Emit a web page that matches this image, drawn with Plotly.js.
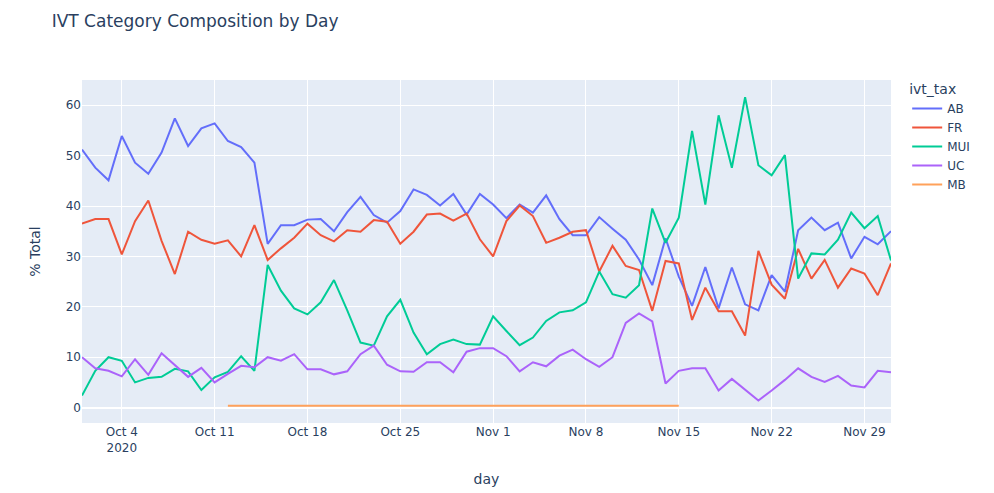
<!DOCTYPE html>
<html>
<head>
<meta charset="utf-8">
<script src="https://cdn.plot.ly/plotly-3.0.1.min.js"></script>
<style>html,body{margin:0;padding:0;background:#fff;}</style>
</head>
<body>
<div id="chart" style="width:994px;height:493px;"></div>
<script>
const days = [
  '2020-10-01','2020-10-02','2020-10-03','2020-10-04','2020-10-05','2020-10-06','2020-10-07','2020-10-08','2020-10-09','2020-10-10',
  '2020-10-11','2020-10-12','2020-10-13','2020-10-14','2020-10-15','2020-10-16','2020-10-17','2020-10-18','2020-10-19','2020-10-20',
  '2020-10-21','2020-10-22','2020-10-23','2020-10-24','2020-10-25','2020-10-26','2020-10-27','2020-10-28','2020-10-29','2020-10-30',
  '2020-10-31','2020-11-01','2020-11-02','2020-11-03','2020-11-04','2020-11-05','2020-11-06','2020-11-07','2020-11-08','2020-11-09',
  '2020-11-10','2020-11-11','2020-11-12','2020-11-13','2020-11-14','2020-11-15','2020-11-16','2020-11-17','2020-11-18','2020-11-19',
  '2020-11-20','2020-11-21','2020-11-22','2020-11-23','2020-11-24','2020-11-25','2020-11-26','2020-11-27','2020-11-28','2020-11-29',
  '2020-11-30','2020-12-01'
];

const AB = [51.2,47.6,45.1,53.9,48.6,46.4,50.6,57.4,51.9,55.4,
            56.4,52.9,51.7,48.6,32.5,36.2,36.2,37.3,37.4,35.0,
            38.8,41.8,38.2,36.7,39.0,43.3,42.2,40.1,42.4,38.3,
            42.4,40.3,37.6,40.3,38.7,42.1,37.4,34.2,34.2,37.8,
            35.5,33.3,29.4,24.3,33.6,26.0,20.2,27.9,19.7,27.8,
            20.5,19.3,26.3,23.0,35.2,37.7,35.2,36.7,29.6,33.9,
            32.4,35.0];

const FR = [36.5,37.4,37.4,30.4,37.0,41.1,33.1,26.5,34.9,33.3,
            32.5,33.2,30.0,36.2,29.3,31.6,33.7,36.5,34.2,33.0,
            35.2,34.9,37.2,36.9,32.5,34.9,38.3,38.5,37.1,38.5,
            33.4,30.0,37.0,40.1,38.0,32.7,33.7,34.9,35.2,27.0,
            32.1,28.1,27.3,19.2,29.1,28.6,17.4,23.8,19.1,19.1,
            14.3,31.1,24.4,21.6,31.5,25.6,29.3,23.8,27.6,26.6,
            22.3,28.6];

const MUI = [2.4,7.3,10.0,9.3,5.0,5.9,6.1,7.7,7.2,3.5,
             6.0,7.1,10.2,7.3,28.3,23.2,19.7,18.5,20.9,25.3,
             19.3,12.9,12.3,18.1,21.4,14.9,10.6,12.6,13.5,12.6,
             12.5,18.1,15.2,12.4,13.9,17.2,18.9,19.3,20.9,27.0,
             22.5,21.8,24.3,39.5,32.7,37.7,54.9,40.3,58.0,47.6,
             61.6,48.1,46.1,50.1,25.6,30.6,30.4,33.3,38.7,35.6,
             38.0,29.2];

const UC = [10.0,7.8,7.3,6.2,9.6,6.5,10.8,8.5,6.1,7.9,
            5.0,6.7,8.3,8.0,10.0,9.3,10.6,7.6,7.6,6.6,
            7.2,10.6,12.3,8.5,7.2,7.1,9.0,9.0,7.0,11.1,
            11.8,11.8,10.2,7.2,9.0,8.2,10.3,11.5,9.6,8.1,
            10.0,16.8,18.7,17.1,4.8,7.3,7.8,7.8,3.4,5.7,
            3.6,1.4,3.4,5.5,7.8,6.1,5.1,6.3,4.4,4.0,
            7.3,7.0];

const MB = [null,null,null,null,null,null,null,null,null,null,
            null,0.35,0.35,0.35,0.35,0.35,0.35,0.35,0.35,0.35,
            0.35,0.35,0.35,0.35,0.35,0.35,0.35,0.35,0.35,0.35,
            0.35,0.35,0.35,0.35,0.35,0.35,0.35,0.35,0.35,0.35,
            0.35,0.35,0.35,0.35,0.35,0.35,null,null,null,null,
            null,null,null,null,null,null,null,null,null,null,
            null,null];

const seriesNames = ['AB','FR','MUI','UC','MB'];
const seriesValues = [AB, FR, MUI, UC, MB];
const seriesColors = ['#636efa','#EF553B','#00cc96','#ab63fa','#FFA15A'];

const traces = seriesNames.map((name, k) => ({
  type: 'scatter',
  mode: 'lines',
  name: name,
  x: days,
  y: seriesValues[k],
  line: {color: seriesColors[k], width: 2},
  connectgaps: false
}));

const layout = {
  width: 994,
  height: 493,
  margin: {l: 82, r: 103, t: 80, b: 70},
  paper_bgcolor: 'white',
  plot_bgcolor: '#E5ECF6',
  font: {family: 'Verdana, "DejaVu Sans", sans-serif', size: 12, color: '#2a3f5f'},
  title: {text: 'IVT Category Composition by Day', x: 0.052, xanchor: 'left', y: 0.958, yanchor: 'middle', yref: 'container', font: {size: 17, color: '#2a3f5f'}},
  xaxis: {
    type: 'date',
    title: {text: 'day', standoff: 20},
    gridcolor: 'white',
    linecolor: 'white',
    zerolinecolor: 'white',
    ticks: '',
    showline: false
  },
  yaxis: {
    title: {text: '% Total', standoff: 21},
    gridcolor: 'white',
    zerolinecolor: 'white',
    zerolinewidth: 2,
    ticks: '',
    showline: false
  },
  legend: {title: {text: 'ivt_tax'}, tracegroupgap: 0, y: 1.012, yanchor: 'top'},
  showlegend: true
};

Plotly.newPlot('chart', traces, layout, {displayModeBar: false, staticPlot: true});
</script>
</body>
</html>
